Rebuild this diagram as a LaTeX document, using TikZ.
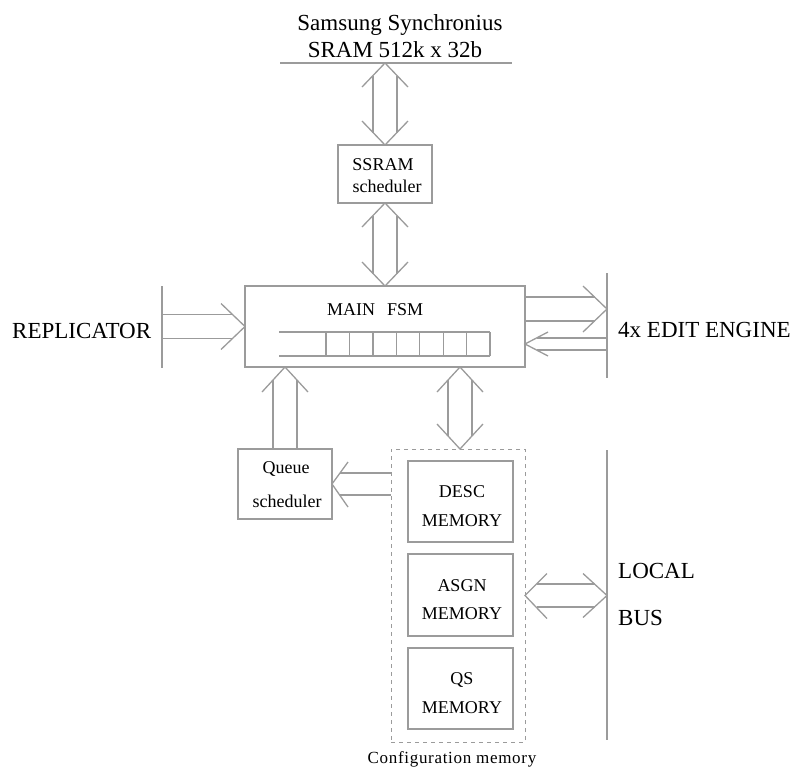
\documentclass[tikz,border=0pt]{standalone}
\usepackage{fontspec}
\setmainfont{Liberation Serif}
\usetikzlibrary{calc}
\definecolor{lc}{RGB}{155,155,155}
\begin{document}
\begin{tikzpicture}[x=1pt,y=-1pt,
 ln/.style={draw=lc,line width=1.3pt},
 box/.style={draw=lc,line width=1.3pt,inner sep=0pt,outer sep=0pt,rectangle},
 big/.style={font=\fontsize{23}{27}\selectfont,inner sep=0pt,anchor=base west},
 lab/.style={font=\fontsize{18}{22}\selectfont,inner sep=0pt,anchor=base},
]
\useasboundingbox (0,0) rectangle (793,769);

% titles and bus lines
\node[big,anchor=base] (t1) at (400,30) {Samsung Synchronius};
\node[big,anchor=base] (t2) at (395,57) {SRAM 512k x 32b};
\coordinate (sramL) at (280,63); \coordinate (sramR) at (512,63);
\draw[ln] (sramL) -- (sramR);
\coordinate (repT) at (162,286); \coordinate (repB) at (162,368);
\draw[ln] (repT) -- (repB);
\coordinate (edT) at (607,273); \coordinate (edB) at (607,378);
\draw[ln] (edT) -- (edB);
\coordinate (busT) at (607,450); \coordinate (busB) at (607,740);
\draw[ln] (busT) -- (busB);

% boxes
\node[box,minimum width=94pt,minimum height=58pt] (ssram) at (385,174) {};
\node[box,minimum width=280pt,minimum height=81pt] (main) at (385,326.5) {};
\node[box,minimum width=94pt,minimum height=70pt] (queue) at (285,484) {};
\node[box,dashed,dash pattern=on 4pt off 4pt,line width=1pt,minimum width=134pt,minimum height=293pt] (config) at (458,595.5) {};
\node[box,minimum width=105pt,minimum height=81pt] (desc) at (460.5,501.5) {};
\node[box,minimum width=105pt,minimum height=82pt] (asgn) at (460.5,595) {};
\node[box,minimum width=105pt,minimum height=81pt] (qs) at (460.5,688.5) {};

% register inside main FSM
\draw[ln] ($(main.center)+(-106,5.5)$) -- ($(main.center)+(105,5.5)$);
\draw[ln] ($(main.center)+(-106,29.5)$) -- ($(main.center)+(105,29.5)$);
\foreach \i in {0,...,7}{
  \draw[ln] ($(main.center)+(-59+\i*23.43,5.5)$) -- ($(main.center)+(-59+\i*23.43,29.5)$);
}

% texts
\node[big] (rep) at (12,338) {REPLICATOR};
\node[big] (edit) at (618,337) {4x EDIT ENGINE};
\node[big] (local) at (618,578) {LOCAL};
\node[big] (bus) at (618,625) {BUS};
\node[lab,anchor=base west] (mainT) at (327,315) {MAIN\hspace{12pt}FSM};
\node[lab] (ssramT1) at (383,170) {SSRAM};
\node[lab] (ssramT2) at (387,192) {scheduler};
\node[lab] (queueT1) at (286,473) {Queue};
\node[lab] (queueT2) at (287,507) {scheduler};
\node[lab] (descT1) at (462,497) {DESC};
\node[lab] (descT2) at (462,526) {MEMORY};
\node[lab] (asgnT1) at (462,591) {ASGN};
\node[lab] (asgnT2) at (462,619) {MEMORY};
\node[lab] (qsT1) at (462,684) {QS};
\node[lab] (qsT2) at (462,713) {MEMORY};
\node[lab,font=\fontsize{17}{20}\selectfont\addfontfeature{LetterSpace=4}] (cfgT) at (452,763) {Configuration memory};

% A1: SRAM <-> SSRAM scheduler
\coordinate (s1) at (ssram.north |- sramL);
\draw[ln] ($(s1)+(-23,24)$) -- (s1) -- ($(s1)+(23,24)$);
\draw[ln] ($(ssram.north)+(-23,-24)$) -- (ssram.north) -- ($(ssram.north)+(23,-24)$);
\draw[ln] ($(s1)+(-12,12.5)$) -- ($(ssram.north)+(-12,-12.5)$);
\draw[ln] ($(s1)+(12,12.5)$) -- ($(ssram.north)+(12,-12.5)$);

% A2: SSRAM scheduler <-> MAIN FSM
\coordinate (s2) at (ssram.south |- main.north);
\draw[ln] ($(ssram.south)+(-23,24)$) -- (ssram.south) -- ($(ssram.south)+(23,24)$);
\draw[ln] ($(s2)+(-23,-24)$) -- (s2) -- ($(s2)+(23,-24)$);
\draw[ln] ($(ssram.south)+(-12,12.5)$) -- ($(s2)+(-12,-12.5)$);
\draw[ln] ($(ssram.south)+(12,12.5)$) -- ($(s2)+(12,-12.5)$);

% A3: REPLICATOR -> MAIN FSM
\coordinate (r1) at (repT |- main.west);
\draw[ln] ($(main.west)+(-24,-23)$) -- (main.west) -- ($(main.west)+(-24,23)$);
\draw[ln] ($(r1)+(0,-12)$) -- ($(main.west)+(-12.5,-12)$);
\draw[ln] ($(r1)+(0,12)$) -- ($(main.west)+(-12.5,12)$);

% A4: MAIN FSM -> EDIT ENGINE
\coordinate (mo) at ($(main.east)+(0,-17.5)$);
\coordinate (e1) at (mo -| edT);
\draw[ln] ($(e1)+(-24,-23)$) -- (e1) -- ($(e1)+(-24,23)$);
\draw[ln] ($(mo)+(0,-12)$) -- ($(e1)+(-12.5,-12)$);
\draw[ln] ($(mo)+(0,12)$) -- ($(e1)+(-12.5,12)$);

% A5: EDIT ENGINE -> MAIN FSM
\coordinate (mi) at ($(main.east)+(0,17.5)$);
\coordinate (e2) at (mi -| edT);
\draw[ln] ($(mi)+(23,-12)$) -- (mi) -- ($(mi)+(23,12)$);
\draw[ln] ($(e2)+(0,-6)$) -- ($(mi)+(11.5,-6)$);
\draw[ln] ($(e2)+(0,6)$) -- ($(mi)+(11.5,6)$);

% A6: Queue scheduler -> MAIN FSM
\coordinate (q1) at (queue.north |- main.south);
\draw[ln] ($(q1)+(-23,25)$) -- (q1) -- ($(q1)+(23,25)$);
\draw[ln] ($(queue.north)+(-12,0)$) -- ($(q1)+(-12,13)$);
\draw[ln] ($(queue.north)+(12,0)$) -- ($(q1)+(12,13)$);

% A7: MAIN FSM <-> configuration memory
\coordinate (c1) at ($(config.north)+(2,0)$);
\coordinate (c0) at (c1 |- main.south);
\draw[ln] ($(c0)+(-23,25)$) -- (c0) -- ($(c0)+(23,25)$);
\draw[ln] ($(c1)+(-23,-25)$) -- (c1) -- ($(c1)+(23,-25)$);
\draw[ln] ($(c0)+(-12,13)$) -- ($(c1)+(-12,-13)$);
\draw[ln] ($(c0)+(12,13)$) -- ($(c1)+(12,-13)$);

% A8: configuration memory -> Queue scheduler
\coordinate (qt) at (queue.east);
\coordinate (cw) at (config.west |- qt);
\draw[ln] ($(qt)+(16,-22)$) -- (qt) -- ($(qt)+(16,23)$);
\draw[ln] ($(qt)+(8,-11)$) -- ($(cw)+(0,-11)$);
\draw[ln] ($(qt)+(8,11)$) -- ($(cw)+(0,11)$);

% A9: configuration memory <-> LOCAL BUS
\coordinate (b0) at (config.east);
\coordinate (b1) at (b0 -| busT);
\draw[ln] ($(b0)+(22,-22)$) -- (b0) -- ($(b0)+(22,23)$);
\draw[ln] ($(b1)+(-24,-22)$) -- (b1) -- ($(b1)+(-24,22)$);
\draw[ln] ($(b0)+(11.5,-11.5)$) -- ($(b1)+(-12,-11.5)$);
\draw[ln] ($(b0)+(11.5,11.5)$) -- ($(b1)+(-12,11.5)$);
\end{tikzpicture}
\end{document}
